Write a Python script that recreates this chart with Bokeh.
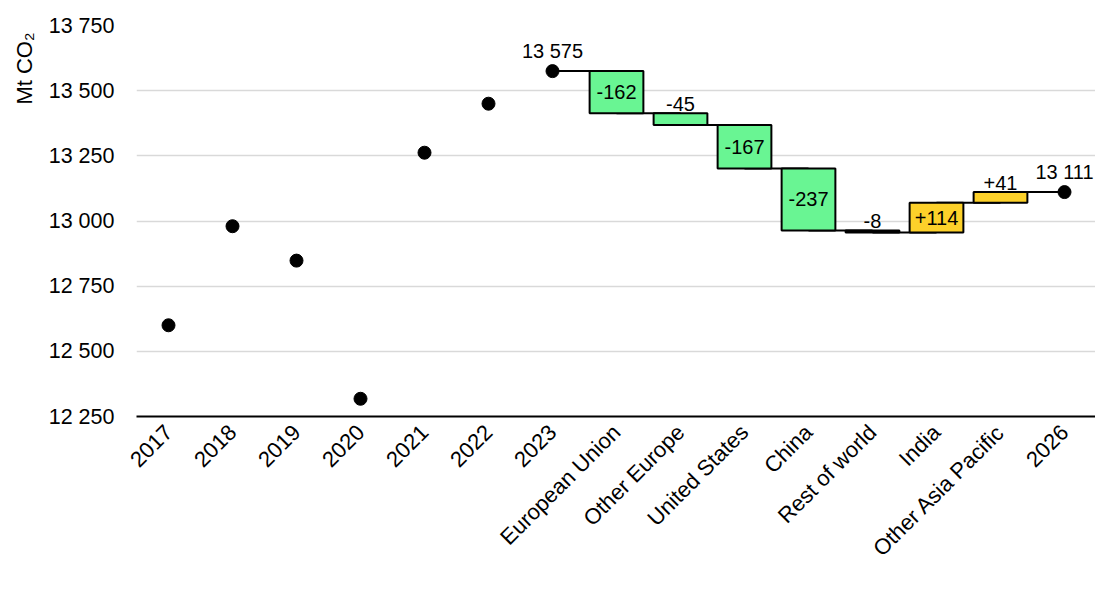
import math
from bokeh.plotting import figure
from bokeh.models import (ColumnDataSource, FactorRange, Range1d, FixedTicker,
                          Legend, LegendItem, Title)
from bokeh.core.properties import value
from bokeh.embed import file_html
from bokeh.resources import INLINE

# ---- data ----
years = ["2017", "2018", "2019", "2020", "2021", "2022", "2023"]
year_totals = [12600, 12980, 12848, 12318, 13262, 13450, 13575]
regions = ["European Union", "Other Europe", "United States", "China",
           "Rest of world", "India", "Other Asia Pacific"]
region_changes = [-162, -45, -167, -237, -8, 114, 41]
end_year = "2026"
end_total = 13111
y_ticks = [12250, 12500, 12750, 13000, 13250, 13500, 13750]

FONT = "Liberation Sans"
GREEN = "#69F593"
YELLOW = "#FDD12A"

def fmt(v):
    return f"{v:,}".replace(",", " ")

categories = years + regions + [end_year]

# waterfall
level = year_totals[-1]
bottoms, tops, levels = [], [], []
for c in region_changes:
    new = level + c
    bottoms.append(min(level, new))
    tops.append(max(level, new))
    levels.append(new)
    level = new

bar_src = ColumnDataSource(dict(
    x=regions, bottom=bottoms, top=tops,
    color=[GREEN if c < 0 else YELLOW for c in region_changes],
))
labels = [(f"+{c}" if c > 0 else f"{c}") for c in region_changes]
mids = [(b + t) / 2 for b, t in zip(bottoms, tops)]

p = figure(frame_width=960, frame_height=391, output_backend="svg", toolbar_location=None,
           x_range=FactorRange(factors=categories),
           y_range=Range1d(y_ticks[0], y_ticks[-1]),
           min_border_left=132, min_border_top=25, min_border_right=0,
           min_border_bottom=0)
p.outline_line_color = None

# grid
p.xgrid.grid_line_color = None
p.ygrid.ticker = FixedTicker(ticks=y_ticks)
p.ygrid.grid_line_color = "#D9D9D9"
p.ygrid.grid_line_width = 1.5

# y axis
p.yaxis.ticker = FixedTicker(ticks=y_ticks)
p.yaxis.major_label_overrides = {t: fmt(t) for t in y_ticks}
p.yaxis.axis_line_color = None
p.yaxis.major_tick_line_color = None
p.yaxis.minor_tick_line_color = None
p.yaxis.major_tick_out = 0
p.yaxis.major_tick_in = 0
p.yaxis.major_label_text_font = FONT
p.yaxis.major_label_text_font_size = "21.5px"
p.yaxis.major_label_text_color = "black"
p.yaxis.major_label_standoff = 22

# x axis
p.xaxis.axis_line_color = "black"
p.xaxis.axis_line_width = 2
p.xaxis.major_tick_line_color = None
p.xaxis.minor_tick_line_color = None
p.xaxis.major_tick_out = 0
p.xaxis.major_tick_in = 0
p.xaxis.major_label_orientation = math.pi / 4
p.xaxis.major_label_text_font = FONT
p.xaxis.major_label_text_font_size = "22px"
p.xaxis.major_label_text_color = "black"
p.xaxis.major_label_standoff = 12

# connectors
p.segment(x0=["2023"] + regions, y0=[year_totals[-1]] + levels,
          x1=regions + [end_year], y1=[year_totals[-1]] + levels,
          line_color="black", line_width=2)

# bars
bars = p.vbar(x="x", bottom="bottom", top="top", width=0.84, source=bar_src,
              fill_color="color", line_color="black", line_width=2)

# legend proxy rect (hidden)
dummy = p.vbar(x=[regions[0]], top=[tops[0]], bottom=[bottoms[0]], width=0.84,
               fill_color="white", line_color="black", line_width=1.5, visible=False)

# points
pt_src = ColumnDataSource(dict(x=years + [end_year], y=year_totals + [end_total]))
pts = p.scatter(x="x", y="y", source=pt_src, size=13, marker="circle",
                fill_color="black", line_color="black")

inside = [i for i, c in enumerate(region_changes) if abs(c) >= 100]
outside = [i for i, c in enumerate(region_changes) if abs(c) < 100]
p.text(x=[regions[i] for i in inside], y=[mids[i] for i in inside],
       text=[labels[i] for i in inside],
       text_font=value(FONT), text_font_size="20px", text_color="black",
       text_align="center", text_baseline="middle")
p.text(x=[regions[i] for i in outside], y=[tops[i] for i in outside],
       text=[labels[i] for i in outside],
       text_font=value(FONT), text_font_size="20px", text_color="black",
       text_align="center", text_baseline="bottom", y_offset=-2)

p.text(x=[years[-1], end_year], y=[year_totals[-1], end_total],
       text=[fmt(year_totals[-1]), fmt(end_total)],
       text_font=value(FONT), text_font_size="20px", text_color="black",
       text_align="center", text_baseline="bottom", y_offset=-9)

# unit title at top-left
ttl = Title(text="Mt CO₂", align="right", text_font=FONT, text_font_size="22px",
            text_font_style="normal", text_color="black", offset=7, standoff=18)
p.add_layout(ttl, "left")

legend = Legend(items=[LegendItem(label="Changes 2026 vs. 2023", renderers=[dummy]),
                       LegendItem(label="Annual total CO2 emissions", renderers=[pts])],
                orientation="horizontal", location=(122, 30),
                border_line_color=None, background_fill_alpha=0,
                label_text_font=FONT, label_text_font_size="22px",
                label_text_color="black",
                glyph_width=42, glyph_height=18, spacing=14, padding=0, margin=0,
                label_standoff=5)
p.add_layout(legend, "below")

open("out.html", "w").write(file_html(p, INLINE))
